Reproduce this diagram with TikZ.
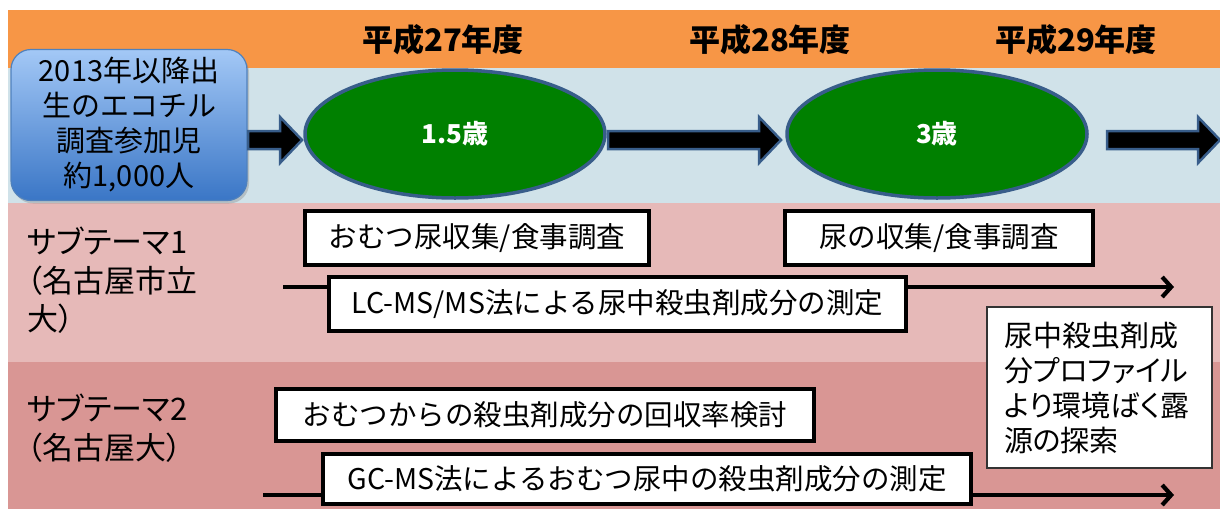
\documentclass[tikz,border=0pt]{standalone}
\usepackage{fontspec}
\newfontfamily\jp{Noto Sans CJK JP}
\newfontfamily\jpp{Noto Sans CJK JP}[RawFeature=+palt]
\usetikzlibrary{arrows.meta,shapes.geometric,shadows,calc}
\definecolor{bandorange}{RGB}{247,150,70}
\definecolor{bandblue}{RGB}{208,226,233}
\definecolor{bandpinkA}{RGB}{230,185,184}
\definecolor{bandpinkB}{RGB}{217,150,148}
\definecolor{ecogreen}{RGB}{0,128,0}
\definecolor{edgeblue}{RGB}{56,93,138}
\definecolor{boxtop}{RGB}{163,200,246}
\definecolor{boxbot}{RGB}{58,118,198}
\definecolor{boxedge}{RGB}{79,129,189}
\tikzset{
  hdr/.style={font=\jp\bfseries\fontsize{31}{36}\selectfont, text=black, inner sep=0pt},
  startbox/.style={rectangle, rounded corners=20pt, draw=boxedge, line width=1.2pt,
    top color=boxtop, bottom color=boxbot, minimum width=236pt, minimum height=151pt,
    align=center, font=\jp\fontsize{29}{35}\selectfont, text=black,
    drop shadow={shadow xshift=2pt, shadow yshift=-3pt, opacity=0.35}},
  age/.style={ellipse, fill=ecogreen, draw=edgeblue, line width=3.5pt,
    minimum width=300pt, minimum height=128pt, text=white,
    font=\jp\bfseries\fontsize{26}{30}\selectfont},
  blockarrow/.style={fill=black, draw=edgeblue, line width=2.5pt, line join=miter},
  procbox/.style={rectangle, draw=black, line width=3.8pt, fill=white, inner sep=0pt,
    font=\jp\fontsize{28.5}{32}\selectfont, text=black},
  notebox/.style={rectangle, draw=black!80, line width=1.3pt, fill=white,
    inner xsep=17pt, inner ysep=0pt, text width=191pt, align=left,
    minimum width=225pt, minimum height=161pt,
    font=\jpp\fontsize{29}{35}\selectfont, text=black},
  theme/.style={anchor=north west, align=left, inner sep=0pt,
    font=\jpp\fontsize{31}{38.5}\selectfont, text=black},
  longarrow/.style={draw=black, line width=4.2pt,
    -{Straight Barb[length=9pt, width=20pt]}},
}
\newcommand\blockarr[2]{%
  \path[blockarrow] ($(#1)+(0,-9)$) -- ($(#2)+(-22,-9)$) -- ($(#2)+(-22,-23)$)
    -- (#2) -- ($(#2)+(-22,23)$) -- ($(#2)+(-22,9)$) -- ($(#1)+(0,9)$) -- cycle;}
\begin{document}
\begin{tikzpicture}[x=1pt,y=-1pt]
\useasboundingbox (0,0) rectangle (1220,509);
\fill[white] (0,0) rectangle (1220,509);
% bands
\fill[bandorange] (8,10) rectangle (1220,68);
\fill[bandblue] (8,68) rectangle (1220,203);
\fill[bandpinkA] (8,203) rectangle (1220,362);
\fill[bandpinkB] (8,362) rectangle (1220,509);
% header
\node[hdr] (h27) at (443,40) {平成27年度};
\node[hdr] (h28) at (770,40) {平成28年度};
\node[hdr] (h29) at (1076,40) {平成29年度};
% start box
\node[startbox] (start) at (129,125) {2013年以降出\\生のエコチル\\調査参加児\\約1,000人};
% block arrows
\coordinate (a1s) at (248,140);
\coordinate (a1e) at (302,140);
\coordinate (a2s) at (608,140);
\coordinate (a2e) at (781,140);
\coordinate (a3s) at (1107,140);
\coordinate (a3e) at (1220,140);
\blockarr{a1s}{a1e}
\blockarr{a2s}{a2e}
\blockarr{a3s}{a3e}
% ellipses
\node[age] (e1) at (455,134) {\raisebox{-3pt}{1.5歳}};
\node[age] (e2) at (937,134) {\raisebox{-3pt}{3歳}};
% sub themes
\node[theme] (t1) at (27,227) {サブテーマ1\\（名古屋市立\\大）};
\node[theme] (t2) at (27,394) {サブテーマ2\\（名古屋大）};
% long arrows (behind boxes)
\coordinate (l1s) at (283,287);
\coordinate (l1e) at (1174,287);
\coordinate (l2s) at (263,495);
\coordinate (l2e) at (1174,495);
\draw[longarrow] (l1s) -- (l1e);
\draw[longarrow] (l2s) -- (l2e);
% process boxes
\node[procbox, minimum width=344pt, minimum height=54pt] (b1) at (477,238) {おむつ尿収集/食事調査};
\node[procbox, minimum width=308pt, minimum height=54pt] (b2) at (939,238) {尿の収集/食事調査};
\node[procbox, minimum width=577pt, minimum height=54pt] (lc) at (617.5,304) {LC-MS/MS法による尿中殺虫剤成分の測定};
\node[procbox, minimum width=538pt, minimum height=52pt] (rc) at (545,415) {おむつからの殺虫剤成分の回収率検討};
\node[procbox, minimum width=648pt, minimum height=50pt] (gc) at (647,479) {GC-MS法によるおむつ尿中の殺虫剤成分の測定};
% note box
\node[notebox] (note) at (1099.5,387.5) {尿中殺虫剤成\\分プロファイル\\より環境ばく露\\源の探索};
\end{tikzpicture}
\end{document}
